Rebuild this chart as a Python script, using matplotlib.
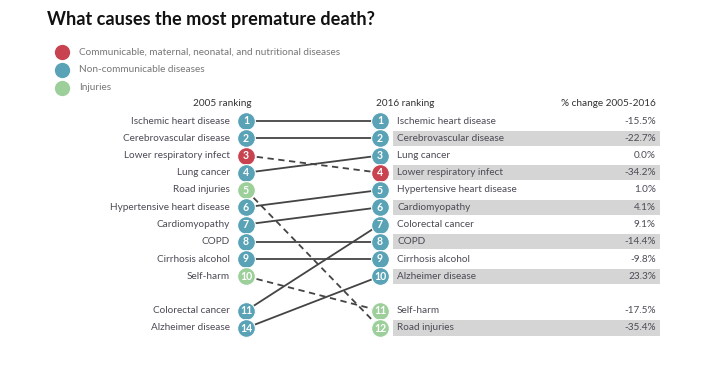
import matplotlib
matplotlib.use("Agg")
import matplotlib.pyplot as plt
from matplotlib.patches import Rectangle

# ---- data ----
causes_2005 = ["Ischemic heart disease", "Cerebrovascular disease", "Lower respiratory infect",
               "Lung cancer", "Road injuries", "Hypertensive heart disease", "Cardiomyopathy",
               "COPD", "Cirrhosis alcohol", "Self-harm", "Colorectal cancer", "Alzheimer disease"]
rank_2005 = [1, 2, 3, 4, 5, 6, 7, 8, 9, 10, 11, 14]
group = ["ncd", "ncd", "cmnn", "ncd", "inj", "ncd", "ncd", "ncd", "ncd", "inj", "ncd", "ncd"]

causes_2016 = ["Ischemic heart disease", "Cerebrovascular disease", "Lung cancer",
               "Lower respiratory infect", "Hypertensive heart disease", "Cardiomyopathy",
               "Colorectal cancer", "COPD", "Cirrhosis alcohol", "Alzheimer disease",
               "Self-harm", "Road injuries"]
rank_2016 = [1, 2, 3, 4, 5, 6, 7, 8, 9, 10, 11, 12]
pct_change = [-15.5, -22.7, 0.0, -34.2, 1.0, 4.1, 9.1, -14.4, -9.8, 23.3, -17.5, -35.4]

legend_labels = ["Communicable, maternal, neonatal, and nutritional diseases",
                 "Non-communicable diseases", "Injuries"]
legend_keys = ["cmnn", "ncd", "inj"]
colors = {"cmnn": "#c8424f", "ncd": "#5aa2b5", "inj": "#9dcf9a"}

# ---- layout helpers ----
W, H = 710, 379
def slot(i):
    # position index in list -> display row (gap after top 10)
    return i + 1 + (1 if i >= 10 else 0)

step = (328 - 121) / 12.0
y_top = 1 - 121 / step
y_bot = 1 + (H - 121) / step
def py(p):
    # pixel row -> axis units
    return 1 + (p - 121) / step

FONT = "Lato"
TXT = "#4d4a55"

fig = plt.figure(figsize=(W / 100, H / 100), dpi=100)
ax = fig.add_axes([0, 0, 1, 1])
ax.set_xlim(0, W)
ax.set_ylim(y_bot, y_top)
ax.axis("off")

xL, xR = 246, 380
r_ms = 12.8

# connecting lines
for i, c in enumerate(causes_2005):
    j = causes_2016.index(c)
    ls = "-" if group[i] == "ncd" else (0, (3.5, 2.5))
    ax.plot([xL, xR], [slot(i), slot(j)], color="#444444", lw=1.3, ls=ls, zorder=1)

# left column
for i, c in enumerate(causes_2005):
    col = colors[group[i]]
    ax.plot(xL, slot(i), "o", ms=r_ms, color=col, mec="white", mew=0.8, zorder=3)
    ax.text(xL, slot(i), str(rank_2005[i]), ha="center", va="center", color="white",
            fontsize=7.6, family=FONT, fontweight="bold", zorder=4)
    ax.text(230, slot(i), c, ha="right", va="center", color=TXT, fontsize=7.2, family=FONT)

# right column
for j, c in enumerate(causes_2016):
    i = causes_2005.index(c)
    col = colors[group[i]]
    if j % 2 == 1:
        ax.add_patch(Rectangle((393, slot(j) - 0.44), 267, 0.88, color="#d5d5d5", lw=0, zorder=0))
    ax.plot(xR, slot(j), "o", ms=r_ms, color=col, mec="white", mew=0.8, zorder=3)
    ax.text(xR, slot(j), str(rank_2016[j]), ha="center", va="center", color="white",
            fontsize=7.6, family=FONT, fontweight="bold", zorder=4)
    ax.text(397, slot(j), c, ha="left", va="center", color=TXT, fontsize=7.2, family=FONT)
    ax.text(656, slot(j), f"{pct_change[j]:.1f}%", ha="right", va="center", color=TXT,
            fontsize=7.2, family=FONT)

# headers
hy = py(103)
ax.text(222, hy, "2005 ranking", ha="center", va="center", color="#333333", fontsize=7.2, family=FONT)
ax.text(405, hy, "2016 ranking", ha="center", va="center", color="#333333", fontsize=7.2, family=FONT)
ax.text(656, hy, "% change 2005-2016", ha="right", va="center", color="#333333", fontsize=7.2, family=FONT)

# title
ax.text(47, py(20), "What causes the most premature death?", ha="left", va="center",
        fontsize=13.1, fontweight="bold", family=FONT, color="#111111")

# legend
for k, (lab, key) in enumerate(zip(legend_labels, legend_keys)):
    ly = py(52 + k * 18)
    ax.plot(62, ly, "o", ms=11, color=colors[key], mew=0)
    ax.text(79, ly, lab, ha="left", va="center", fontsize=7.2, color="#777777", family=FONT)

fig.savefig("out.png", dpi=100)
